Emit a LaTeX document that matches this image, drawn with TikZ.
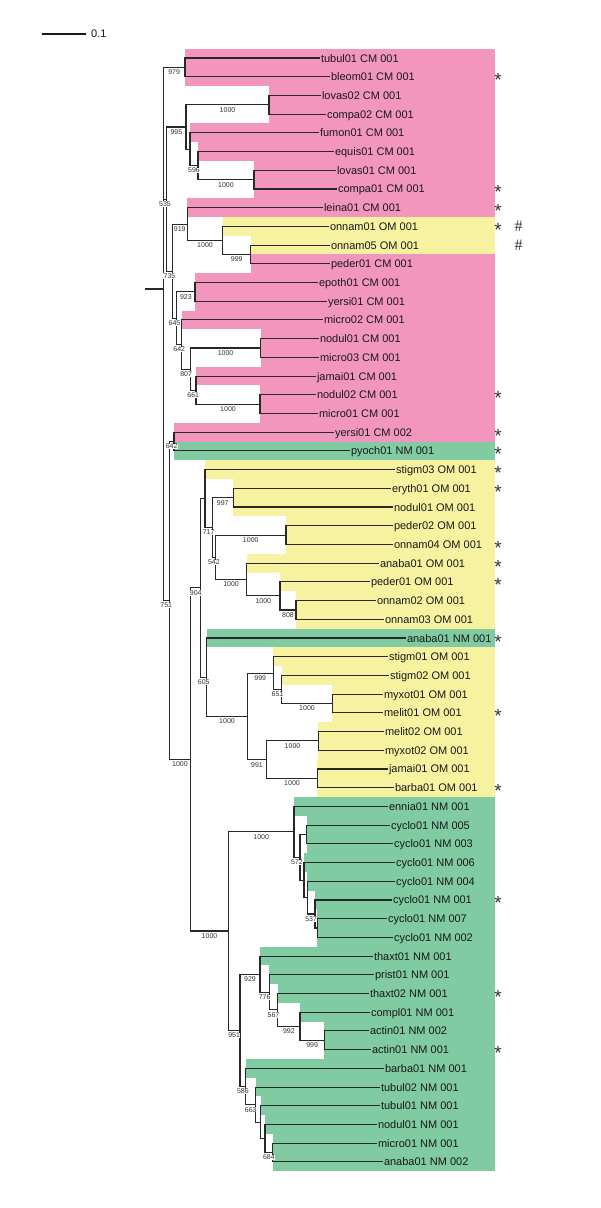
\documentclass[tikz,border=0pt]{standalone}
\usepackage{fontspec}
\newfontfamily\lsans{Liberation Sans}
\newfontfamily\lserif{Liberation Serif}
\usetikzlibrary{calc}
\pgfdeclarelayer{bg}
\pgfsetlayers{bg,main}
\definecolor{cmpink}{RGB}{243,150,190}
\definecolor{omyellow}{RGB}{247,242,160}
\definecolor{nmgreen}{RGB}{128,203,162}
\definecolor{treeline}{RGB}{40,40,40}
\definecolor{bstext}{RGB}{50,50,50}
\newcommand\ry[1]{58+(#1-1)*18.71}
\newcommand\leaf[6]{%
  \node[leaflab] (#1) at (#3,{\ry{#2}}) {#6};
  \begin{pgfonlayer}{bg}
    \fill[#5] ([yshift=9.355pt]#4 |- #1.west) rectangle ([yshift=-9.355pt]bandR |- #1.west);
  \end{pgfonlayer}
  \draw[brl] (#4) |- (#1.west);
}
\newcommand\edg[2]{\draw[brl] (#1) |- (#2);}
\newcommand\bs[3]{\node[bslab] (b#2) at ($(#1 |- #2)!0.5!(#2)+(0,5)$) {#3};}
\newcommand\mystar[2]{\node[starlab] (s#1) at (498,{\ry{#2}+10}) {*};}
\newcommand\myhash[2]{\node[hashlab] (h#1) at (518.7,{\ry{#2}+5.6}) {\#};}
\begin{document}
\begin{tikzpicture}[x=1pt,y=-1pt,
  brl/.style={draw=treeline,line width=1.1pt},
  leaflab/.style={anchor=west,inner xsep=0.8pt,inner ysep=0pt,text height=8pt,text depth=0pt,font=\lsans\fontsize{11}{13}\selectfont,text=black!90},
  bslab/.style={fill=white,inner sep=0.3pt,font=\lsans\fontsize{7}{8}\selectfont,text=bstext},
  starlab/.style={anchor=base,inner sep=0pt,font=\lsans\fontsize{19}{19}\selectfont,text=black!80},
  hashlab/.style={anchor=base,inner sep=0pt,font=\lserif\fontsize{16}{16}\selectfont,text=black!80}]
\useasboundingbox (0,0) rectangle (600,1208);
\begin{pgfonlayer}{bg}
  \fill[white] (0,0) rectangle (600,1208);
\end{pgfonlayer}
\coordinate (bandR) at (495,0);
% scale bar
\coordinate (sb1) at (42,34);
\coordinate (sb2) at (86,34);
\draw[line width=1.5pt,black!90] (sb1) -- (sb2);
\node[anchor=west,inner sep=0pt,font=\lsans\fontsize{11}{13}\selectfont,text=black!90] (sblab) at ([xshift=5pt]sb2) {0.1};
% internal nodes
\coordinate (root) at (163.3,{\ry{13.345}});
\coordinate (rootstub) at (145,{\ry{13.345}});
\coordinate (n979) at (185,{\ry{1.5}});
\coordinate (n535) at (166.7,{\ry{8.539}});
\coordinate (n995) at (186,{\ry{4.6875}});
\coordinate (nA) at (269,{\ry{3.5}});
\coordinate (nFum) at (190,{\ry{5.875}});
\coordinate (n596) at (198,{\ry{6.75}});
\coordinate (nB) at (254,{\ry{7.5}});
\coordinate (n735) at (172.3,{\ry{12.39}});
\coordinate (n919) at (187.3,{\ry{9.875}});
\coordinate (nC) at (222.7,{\ry{10.75}});
\coordinate (n999a) at (250.7,{\ry{11.5}});
\coordinate (n645) at (176.7,{\ry{14.906}});
\coordinate (n923) at (195,{\ry{13.5}});
\coordinate (n642a) at (181.7,{\ry{16.3125}});
\coordinate (n807) at (190.5,{\ry{17.625}});
\coordinate (nD) at (260.7,{\ry{16.5}});
\coordinate (n661) at (196,{\ry{18.75}});
\coordinate (nE) at (260,{\ry{19.5}});
\coordinate (n751) at (169.3,{\ry{29.995}});
\coordinate (n642b) at (174,{\ry{21.5}});
\coordinate (nX) at (190.7,{\ry{38.49}});
\coordinate (n904) at (200.7,{\ry{29.32}});
\coordinate (nI) at (205,{\ry{24.547}});
\coordinate (n717) at (212.3,{\ry{26.09}});
\coordinate (n997) at (233.3,{\ry{24.5}});
\coordinate (n542) at (215.5,{\ry{27.6875}});
\coordinate (nF) at (286,{\ry{26.5}});
\coordinate (nH) at (246.7,{\ry{28.875}});
\coordinate (nG) at (280,{\ry{29.75}});
\coordinate (n808) at (296,{\ry{30.5}});
\coordinate (n605) at (206.7,{\ry{34.09}});
\coordinate (nM) at (247.3,{\ry{36.1875}});
\coordinate (n999b) at (273.3,{\ry{33.875}});
\coordinate (n651) at (281.7,{\ry{34.75}});
\coordinate (nJ) at (332.3,{\ry{35.5}});
\coordinate (n991) at (266.7,{\ry{38.5}});
\coordinate (nK) at (318.3,{\ry{37.5}});
\coordinate (nL) at (317.3,{\ry{39.5}});
\coordinate (nN) at (228.3,{\ry{47.66}});
\coordinate (nO) at (294,{\ry{42.36}});
\coordinate (n572) at (300,{\ry{43.72}});
\coordinate (nQ) at (306.7,{\ry{42.5}});
\coordinate (nR) at (304,{\ry{44.9375}});
\coordinate (nS) at (307.3,{\ry{45.875}});
\coordinate (n537) at (315,{\ry{46.75}});
\coordinate (nU) at (317.3,{\ry{47.5}});
\coordinate (n951) at (240,{\ry{52.97}});
\coordinate (n929) at (260,{\ry{49.97}});
\coordinate (n776) at (269.3,{\ry{50.94}});
\coordinate (n567) at (277.7,{\ry{51.875}});
\coordinate (n992) at (300,{\ry{52.75}});
\coordinate (n999c) at (324.3,{\ry{53.5}});
\coordinate (n586) at (245.7,{\ry{55.97}});
\coordinate (n663) at (255.7,{\ry{56.94}});
\coordinate (nV) at (260.7,{\ry{57.875}});
\coordinate (nW) at (265,{\ry{58.75}});
\coordinate (n684) at (272.7,{\ry{59.5}});
% internal edges
\draw[brl] (rootstub) -- (root);
\edg{root}{n979}\edg{root}{n535}\edg{root}{n751}
\edg{n535}{n995}\edg{n535}{n735}
\edg{n995}{nA}\edg{n995}{nFum}
\edg{nFum}{n596}\edg{n596}{nB}
\edg{n735}{n919}\edg{n735}{n645}
\edg{n919}{nC}\edg{nC}{n999a}
\edg{n645}{n923}\edg{n645}{n642a}
\edg{n642a}{n807}
\edg{n807}{nD}\edg{n807}{n661}
\edg{n661}{nE}
\edg{n751}{n642b}\edg{n751}{nX}
\edg{nX}{n904}\edg{nX}{nN}
\edg{n904}{nI}\edg{n904}{n605}
\edg{nI}{n717}
\edg{n717}{n997}\edg{n717}{n542}
\edg{n542}{nF}\edg{n542}{nH}
\edg{nH}{nG}\edg{nG}{n808}
\edg{n605}{nM}
\edg{nM}{n999b}\edg{nM}{n991}
\edg{n999b}{n651}\edg{n651}{nJ}
\edg{n991}{nK}\edg{n991}{nL}
\edg{nN}{nO}\edg{nN}{n951}
\edg{nO}{n572}
\edg{n572}{nQ}\edg{n572}{nR}
\edg{nR}{nS}\edg{nS}{n537}\edg{n537}{nU}
\edg{n951}{n929}\edg{n951}{n586}
\edg{n929}{n776}\edg{n776}{n567}\edg{n567}{n992}\edg{n992}{n999c}
\edg{n586}{n663}\edg{n663}{nV}\edg{nV}{nW}\edg{nW}{n684}
% leaves
\leaf{l1}{1}{320}{n979}{cmpink}{tubul01 CM 001}
\leaf{l2}{2}{330}{n979}{cmpink}{bleom01 CM 001}
\leaf{l3}{3}{321}{nA}{cmpink}{lovas02 CM 001}
\leaf{l4}{4}{326}{nA}{cmpink}{compa02 CM 001}
\leaf{l5}{5}{319}{nFum}{cmpink}{fumon01 CM 001}
\leaf{l6}{6}{334}{n596}{cmpink}{equis01 CM 001}
\leaf{l7}{7}{336}{nB}{cmpink}{lovas01 CM 001}
\leaf{l8}{8}{337}{nB}{cmpink}{compa01 CM 001}
\leaf{l9}{9}{323}{n919}{cmpink}{leina01 CM 001}
\leaf{l10}{10}{329}{nC}{omyellow}{onnam01 OM 001}
\leaf{l11}{11}{330}{n999a}{omyellow}{onnam05 OM 001}
\leaf{l12}{12}{330}{n999a}{cmpink}{peder01 CM 001}
\leaf{l13}{13}{318}{n923}{cmpink}{epoth01 CM 001}
\leaf{l14}{14}{327}{n923}{cmpink}{yersi01 CM 001}
\leaf{l15}{15}{323}{n642a}{cmpink}{micro02 CM 001}
\leaf{l16}{16}{319}{nD}{cmpink}{nodul01 CM 001}
\leaf{l17}{17}{319}{nD}{cmpink}{micro03 CM 001}
\leaf{l18}{18}{316}{n661}{cmpink}{jamai01 CM 001}
\leaf{l19}{19}{316}{nE}{cmpink}{nodul02 CM 001}
\leaf{l20}{20}{318}{nE}{cmpink}{micro01 CM 001}
\leaf{l21}{21}{334}{n642b}{cmpink}{yersi01 CM 002}
\leaf{l22}{22}{350}{n642b}{nmgreen}{pyoch01 NM 001}
\leaf{l23}{23}{395}{nI}{omyellow}{stigm03 OM 001}
\leaf{l24}{24}{391}{n997}{omyellow}{eryth01 OM 001}
\leaf{l25}{25}{393}{n997}{omyellow}{nodul01 OM 001}
\leaf{l26}{26}{393}{nF}{omyellow}{peder02 OM 001}
\leaf{l27}{27}{393}{nF}{omyellow}{onnam04 OM 001}
\leaf{l28}{28}{379}{nH}{omyellow}{anaba01 OM 001}
\leaf{l29}{29}{370}{nG}{omyellow}{peder01 OM 001}
\leaf{l30}{30}{376}{n808}{omyellow}{onnam02 OM 001}
\leaf{l31}{31}{384}{n808}{omyellow}{onnam03 OM 001}
\leaf{l32}{32}{406}{n605}{nmgreen}{anaba01 NM 001}
\leaf{l33}{33}{388}{n999b}{omyellow}{stigm01 OM 001}
\leaf{l34}{34}{389}{n651}{omyellow}{stigm02 OM 001}
\leaf{l35}{35}{383}{nJ}{omyellow}{myxot01 OM 001}
\leaf{l36}{36}{383}{nJ}{omyellow}{melit01 OM 001}
\leaf{l37}{37}{384}{nK}{omyellow}{melit02 OM 001}
\leaf{l38}{38}{384}{nK}{omyellow}{myxot02 OM 001}
\leaf{l39}{39}{388}{nL}{omyellow}{jamai01 OM 001}
\leaf{l40}{40}{394}{nL}{omyellow}{barba01 OM 001}
\leaf{l41}{41}{388}{nO}{nmgreen}{ennia01 NM 001}
\leaf{l42}{42}{390}{nQ}{nmgreen}{cyclo01 NM 005}
\leaf{l43}{43}{393}{nQ}{nmgreen}{cyclo01 NM 003}
\leaf{l44}{44}{395}{nR}{nmgreen}{cyclo01 NM 006}
\leaf{l45}{45}{395}{nS}{nmgreen}{cyclo01 NM 004}
\leaf{l46}{46}{392}{n537}{nmgreen}{cyclo01 NM 001}
\leaf{l47}{47}{387}{nU}{nmgreen}{cyclo01 NM 007}
\leaf{l48}{48}{393}{nU}{nmgreen}{cyclo01 NM 002}
\leaf{l49}{49}{373}{n929}{nmgreen}{thaxt01 NM 001}
\leaf{l50}{50}{374}{n776}{nmgreen}{prist01 NM 001}
\leaf{l51}{51}{369}{n567}{nmgreen}{thaxt02 NM 001}
\leaf{l52}{52}{370}{n992}{nmgreen}{compl01 NM 001}
\leaf{l53}{53}{369}{n999c}{nmgreen}{actin01 NM 002}
\leaf{l54}{54}{371}{n999c}{nmgreen}{actin01 NM 001}
\leaf{l55}{55}{384}{n586}{nmgreen}{barba01 NM 001}
\leaf{l56}{56}{380}{n663}{nmgreen}{tubul02 NM 001}
\leaf{l57}{57}{380}{nV}{nmgreen}{tubul01 NM 001}
\leaf{l58}{58}{377}{nW}{nmgreen}{nodul01 NM 001}
\leaf{l59}{59}{377}{n684}{nmgreen}{micro01 NM 001}
\leaf{l60}{60}{383}{n684}{nmgreen}{anaba01 NM 002}
% bootstrap values
\bs{root}{n979}{979}
\bs{n995}{nA}{1000}
\bs{n535}{n995}{995}
\bs{nFum}{n596}{596}
\bs{n596}{nB}{1000}
\bs{root}{n535}{535}
\bs{n735}{n919}{919}
\bs{n919}{nC}{1000}
\bs{nC}{n999a}{999}
\bs{n535}{n735}{735}
\bs{n645}{n923}{923}
\bs{n735}{n645}{645}
\bs{n645}{n642a}{642}
\bs{n807}{nD}{1000}
\bs{n642a}{n807}{807}
\bs{n807}{n661}{661}
\bs{n661}{nE}{1000}
\bs{n751}{n642b}{642}
\bs{root}{n751}{751}
\bs{n717}{n997}{997}
\bs{nI}{n717}{717}
\bs{n542}{nF}{1000}
\bs{n717}{n542}{542}
\bs{n542}{nH}{1000}
\bs{nH}{nG}{1000}
\bs{nG}{n808}{808}
\bs{nX}{n904}{904}
\bs{n904}{n605}{605}
\bs{n605}{nM}{1000}
\bs{nM}{n999b}{999}
\bs{n999b}{n651}{651}
\bs{n651}{nJ}{1000}
\bs{nM}{n991}{991}
\bs{n991}{nK}{1000}
\bs{n991}{nL}{1000}
\bs{n751}{nX}{1000}
\bs{nX}{nN}{1000}
\bs{nN}{nO}{1000}
\bs{nO}{n572}{572}
\bs{nS}{n537}{537}
\bs{n951}{n929}{929}
\bs{n929}{n776}{776}
\bs{n776}{n567}{567}
\bs{n567}{n992}{992}
\bs{n992}{n999c}{999}
\bs{nN}{n951}{951}
\bs{n951}{n586}{586}
\bs{n586}{n663}{663}
\bs{nW}{n684}{684}
% asterisks and hashes
\mystar{2}{2}\mystar{8}{8}\mystar{9}{9}\mystar{10}{10}\mystar{19}{19}
\mystar{21}{21}\mystar{22}{22}\mystar{23}{23}\mystar{24}{24}\mystar{27}{27}
\mystar{28}{28}\mystar{29}{29}\mystar{32}{32}\mystar{36}{36}\mystar{40}{40}
\mystar{46}{46}\mystar{51}{51}\mystar{54}{54}
\myhash{10}{10}\myhash{11}{11}
\end{tikzpicture}
\end{document}
